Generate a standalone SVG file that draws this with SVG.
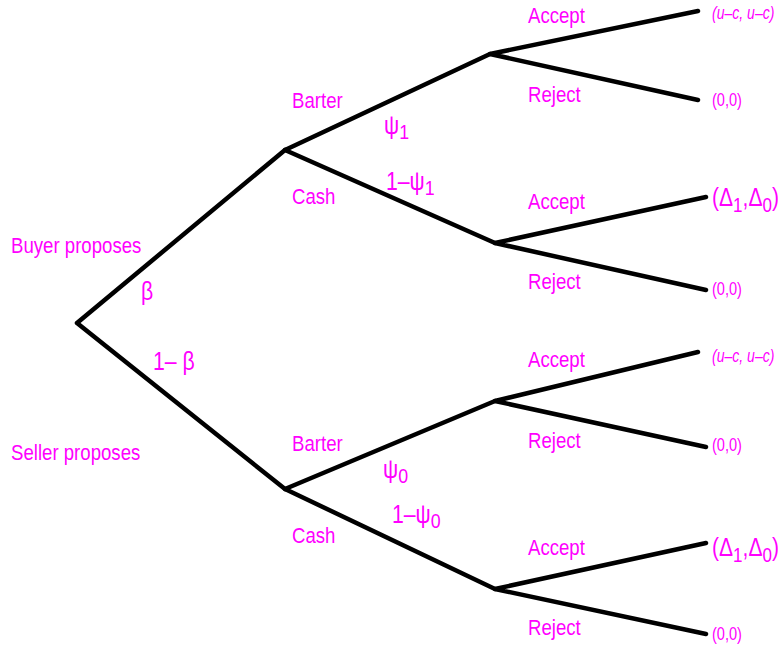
<svg xmlns="http://www.w3.org/2000/svg" width="783" height="652" viewBox="0 0 783 652">
  <style>
    .edge { stroke: #000; stroke-width: 4.5; fill: none; stroke-linecap: round; }
    text { fill: #ff00ff; font-family: "Liberation Sans", Arial, sans-serif; }
    .lbl { font-size: 23px; }
    .sym { font-size: 25px; }
    .pay { font-size: 18px; }
    .payi { font-size: 18px; font-style: italic; }
    .payd { font-size: 26px; }
    .sub { font-size: 21px; }
  </style>
  <rect width="783" height="652" fill="#fff"/>

  <!-- tree edges -->
  <g id="connectors">
    <path class="edge" d="M77,323 L285,150 M77,323 L285,489"/>
    <path class="edge" d="M285,150 L490,54 M285,150 L495,243"/>
    <path class="edge" d="M285,489 L495,401 M285,489 L495,589"/>
    <path class="edge" d="M490,54 L698,11 M490,54 L698,100"/>
    <path class="edge" d="M495,243 L706,197 M495,243 L706,290"/>
    <path class="edge" d="M495,401 L698,352 M495,401 L706,447"/>
    <path class="edge" d="M495,589 L706,543 M495,589 L706,634"/>
  </g>

  <!-- labels use a condensed face: horizontal scale on a sans -->
  <g id="root">
    <text class="lbl" transform="translate(11,253) scale(0.81,1)">Buyer proposes</text>
    <text class="lbl" transform="translate(11,460) scale(0.81,1)">Seller proposes</text>
    <text class="sym" transform="translate(141,300) scale(0.85,1)">β</text>
    <text class="sym" transform="translate(153,370) scale(0.85,1)">1– β</text>
  </g>

  <g id="buyer">
    <text class="lbl" transform="translate(292,108) scale(0.81,1)">Barter</text>
    <text class="lbl" transform="translate(292,204) scale(0.81,1)">Cash</text>
    <text class="sym" transform="translate(384,134) scale(0.85,1)">ψ<tspan class="sub" dy="5">1</tspan></text>
    <text class="sym" transform="translate(386,190) scale(0.85,1)">1–ψ<tspan class="sub" dy="5">1</tspan></text>
  </g>

  <g id="seller">
    <text class="lbl" transform="translate(292,451) scale(0.81,1)">Barter</text>
    <text class="lbl" transform="translate(292,543) scale(0.81,1)">Cash</text>
    <text class="sym" transform="translate(383,478) scale(0.85,1)">ψ<tspan class="sub" dy="5">0</tspan></text>
    <text class="sym" transform="translate(392,523) scale(0.85,1)">1–ψ<tspan class="sub" dy="5">0</tspan></text>
  </g>

  <g id="buyer-barter">
    <text class="lbl" transform="translate(528,23) scale(0.81,1)">Accept</text>
    <text class="lbl" transform="translate(528,102) scale(0.81,1)">Reject</text>
    <text class="payi" transform="translate(712,19) scale(0.78,1)">(u–c, u–c)</text>
    <text class="pay" transform="translate(712,106) scale(0.81,1)">(0,0)</text>
  </g>

  <g id="buyer-cash">
    <text class="lbl" transform="translate(528,209) scale(0.81,1)">Accept</text>
    <text class="lbl" transform="translate(528,289) scale(0.81,1)">Reject</text>
    <text class="payd" transform="translate(712,206) scale(0.81,1)">(Δ<tspan class="sub" dy="6">1</tspan><tspan dy="-6">,Δ</tspan><tspan class="sub" dy="6">0</tspan><tspan dy="-6">)</tspan></text>
    <text class="pay" transform="translate(712,295) scale(0.81,1)">(0,0)</text>
  </g>

  <g id="seller-barter">
    <text class="lbl" transform="translate(528,367) scale(0.81,1)">Accept</text>
    <text class="lbl" transform="translate(528,448) scale(0.81,1)">Reject</text>
    <text class="payi" transform="translate(712,362) scale(0.78,1)">(u–c, u–c)</text>
    <text class="pay" transform="translate(712,451) scale(0.81,1)">(0,0)</text>
  </g>

  <g id="seller-cash">
    <text class="lbl" transform="translate(528,555) scale(0.81,1)">Accept</text>
    <text class="lbl" transform="translate(528,635) scale(0.81,1)">Reject</text>
    <text class="payd" transform="translate(712,556) scale(0.81,1)">(Δ<tspan class="sub" dy="6">1</tspan><tspan dy="-6">,Δ</tspan><tspan class="sub" dy="6">0</tspan><tspan dy="-6">)</tspan></text>
    <text class="pay" transform="translate(712,640) scale(0.81,1)">(0,0)</text>
  </g>
</svg>
